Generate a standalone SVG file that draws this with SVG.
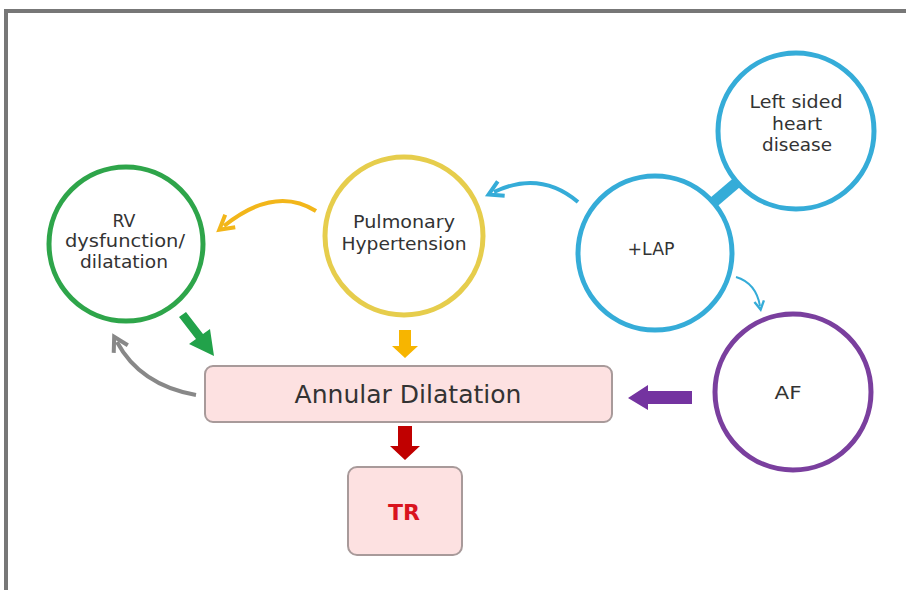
<svg xmlns="http://www.w3.org/2000/svg" width="906" height="590" viewBox="0 0 906 590">
<style>
text{font-family:"DejaVu Sans","Liberation Sans",sans-serif;fill:#333;text-anchor:middle}
.c{fill:#fff;stroke-width:5}
.lbl{font-size:17px}
.box{fill:#fde1e1;stroke:#a89a9a;stroke-width:2}
</style>
<defs>
<marker id="ay" viewBox="0 0 10 10" refX="5" refY="5" markerWidth="5" markerHeight="5" orient="auto"><path d="M1,1 L8,5 L1,9" fill="none" stroke="#f2b61a" stroke-width="2"/></marker>
<marker id="ab" viewBox="0 0 10 10" refX="5" refY="5" markerWidth="5" markerHeight="5" orient="auto"><path d="M1,1 L8,5 L1,9" fill="none" stroke="#35acd8" stroke-width="2"/></marker>
<marker id="ab2" viewBox="0 0 10 10" refX="5" refY="5" markerWidth="6" markerHeight="6" orient="auto"><path d="M1,1 L8,5 L1,9" fill="none" stroke="#35acd8" stroke-width="2"/></marker>
<marker id="ag" viewBox="0 0 10 10" refX="5" refY="5" markerWidth="5" markerHeight="5" orient="auto"><path d="M1,1 L8,5 L1,9" fill="none" stroke="#888" stroke-width="2"/></marker>
</defs>
<rect width="906" height="590" fill="#fff"/>
<path d="M6,590 V11 H906" fill="none" stroke="#777" stroke-width="4"/>

<g id="connectors">
<path d="M316,211 Q275,185 224,226" fill="none" stroke="#f2b61a" stroke-width="4" marker-end="url(#ay)"/>
<path d="M578,202 Q540,170 494,192" fill="none" stroke="#35acd8" stroke-width="4" marker-end="url(#ab)"/>
<path d="M708,207 L742,178" stroke="#35acd8" stroke-width="11"/>
<path d="M736,277 Q756,283 760,306" fill="none" stroke="#35acd8" stroke-width="2" marker-end="url(#ab2)"/>
<path d="M196,395 Q140,385 117,342" fill="none" stroke="#888" stroke-width="4" marker-end="url(#ag)"/>
<path d="M179,317 L196,339 L189,344 L214,356 L210,329 L203,334 L186,312 Z" fill="#22a24a"/>
<path d="M399,330 H411 V346 H418 L405,358 L392,346 H399 Z" fill="#f7b500"/>
<path d="M692,391 H648 V385 L628,398 L648,410 V404 H692 Z" fill="#7433a0"/>
<path d="M398,426 H412 V446 H420 L405,460 L390,446 H398 Z" fill="#c00000"/>
</g>

<g id="rv">
<circle class="c" cx="126" cy="244" r="77" stroke="#2ea54a"/>
<text class="lbl" x="124" y="227" textLength="23" lengthAdjust="spacingAndGlyphs">RV</text>
<text class="lbl" x="125" y="247" textLength="120" lengthAdjust="spacingAndGlyphs">dysfunction/</text>
<text class="lbl" x="124" y="268" textLength="88" lengthAdjust="spacingAndGlyphs">dilatation</text>
</g>
<g id="ph">
<circle class="c" cx="404" cy="236" r="79" stroke="#e6cd4c"/>
<text class="lbl" x="404" y="228" textLength="102" lengthAdjust="spacingAndGlyphs">Pulmonary</text>
<text class="lbl" x="404" y="250" textLength="125" lengthAdjust="spacingAndGlyphs">Hypertension</text>
</g>
<g id="lap">
<circle class="c" cx="655" cy="253" r="77" stroke="#35acd8"/>
<text class="lbl" x="651" y="255" textLength="47" lengthAdjust="spacingAndGlyphs">+LAP</text>
</g>
<g id="lshd">
<circle class="c" cx="796" cy="131" r="78" stroke="#35acd8"/>
<text class="lbl" x="796" y="108" textLength="93" lengthAdjust="spacingAndGlyphs">Left sided</text>
<text class="lbl" x="797" y="130" textLength="50" lengthAdjust="spacingAndGlyphs">heart</text>
<text class="lbl" x="797" y="151" textLength="70" lengthAdjust="spacingAndGlyphs">disease</text>
</g>
<g id="af">
<circle class="c" cx="793" cy="392" r="78" stroke="#7a3f9e"/>
<text class="lbl" x="788" y="399" textLength="27" lengthAdjust="spacingAndGlyphs">AF</text>
</g>
<g id="annular">
<rect class="box" x="205" y="366" width="407" height="56" rx="8"/>
<text x="408" y="403" font-size="24" textLength="227" lengthAdjust="spacingAndGlyphs">Annular Dilatation</text>
</g>
<g id="tr">
<rect class="box" x="348" y="467" width="114" height="88" rx="9"/>
<text x="404" y="520" font-size="21" font-weight="bold" textLength="32" lengthAdjust="spacingAndGlyphs" style="fill:#d9141e">TR</text>
</g>
</svg>
